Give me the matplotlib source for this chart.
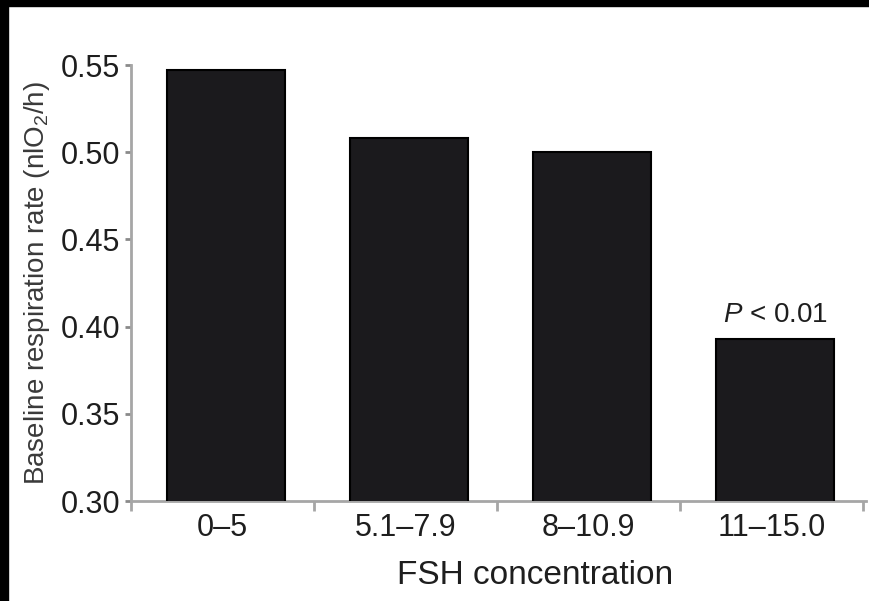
import matplotlib
matplotlib.use("Agg")
import matplotlib.pyplot as plt
from matplotlib.patches import Rectangle
import numpy as np

# data
groups = ["0–5", "5.1–7.9", "8–10.9", "11–15.0"]
resp_rate = [0.547, 0.508, 0.500, 0.393]
y_ticks = [0.30, 0.35, 0.40, 0.45, 0.50, 0.55]
sig_label = r"$P$ < 0.01"

plt.rcParams["font.family"] = ["Liberation Sans", "DejaVu Sans"]
plt.rcParams["mathtext.fontset"] = "custom"
plt.rcParams["mathtext.rm"] = "Liberation Sans"
plt.rcParams["mathtext.it"] = "Liberation Sans:italic"

axis_grey = "#a6a6a6"
text_col = "#1e1e1e"

fig = plt.figure(figsize=(8.69, 6.01), dpi=100)
fig.patch.set_facecolor("white")
ax = fig.add_axes([131/869, 1 - 501/601, 735/869, 436/601])

x = np.arange(len(groups))
bars = ax.bar(x + 0.02, resp_rate, width=0.645, color="#1b1a1d", edgecolor="black", linewidth=1.5, zorder=3)

ax.set_ylim(0.30, 0.55)
ax.set_xlim(-0.5, 3.516)
ax.set_yticks(y_ticks)
ax.set_yticklabels([f"{v:.2f}" for v in y_ticks])
ax.set_xticks(x)
ax.set_xticklabels(groups)
ax.set_xticks(np.arange(-0.5, len(groups), 1.0), minor=True)

for s in ["top", "right"]:
    ax.spines[s].set_visible(False)
for s in ["left", "bottom"]:
    ax.spines[s].set_color(axis_grey)
    ax.spines[s].set_linewidth(2)

ax.tick_params(axis="y", direction="out", length=4, width=2, color="#8a8a8a",
               labelsize=22, labelcolor=text_col, pad=4)
ax.tick_params(axis="x", which="major", length=0, labelsize=22, labelcolor=text_col, pad=9)
ax.tick_params(axis="x", which="minor", direction="out", length=7, width=2, color=axis_grey)

ax.set_xlabel("FSH concentration", fontsize=24, color=text_col)
ax.xaxis.set_label_coords(0.55, -0.135)
ax.set_ylabel(r"Baseline respiration rate (nlO$_2$/h)", fontsize=20, color="#3a3a3a")
ax.yaxis.set_label_coords(-0.108, 0.5)

ax.annotate(sig_label, xy=(x[3] + 0.02, resp_rate[3]), xytext=(0, 12), textcoords="offset points",
            ha="center", va="baseline", fontsize=20, color=text_col)

# black frame strips along the top and left edges of the scan
fig.patches.append(Rectangle((0, 1 - 6/601), 1, 6/601, transform=fig.transFigure,
                             color="black", zorder=10))
fig.patches.append(Rectangle((0, 0), 8/869, 1, transform=fig.transFigure,
                             color="black", zorder=10))

fig.savefig("out.png", dpi=100)
